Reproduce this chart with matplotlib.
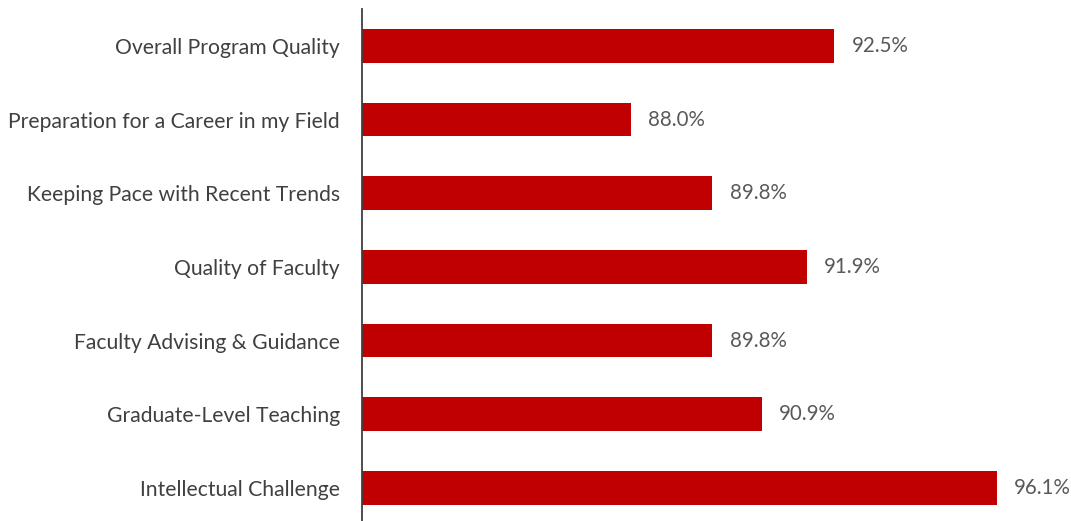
import matplotlib
matplotlib.use("Agg")
import matplotlib.pyplot as plt

categories = [
    "Overall Program Quality",
    "Preparation for a Career in my Field",
    "Keeping Pace with Recent Trends",
    "Quality of Faculty",
    "Faculty Advising & Guidance",
    "Graduate-Level Teaching",
    "Intellectual Challenge",
]
values = [92.5, 88.0, 89.8, 91.9, 89.8, 90.9, 96.1]

plt.rcParams['font.family'] = ['Lato', 'DejaVu Sans']

fig = plt.figure(figsize=(10.71, 5.21), dpi=100)
ax = fig.add_axes([362 / 1071, 0, (1071 - 362) / 1071, 512 / 521])

ypos = list(range(len(categories)))
ax.barh(ypos, values, height=0.46, color='#C00000', left=0)
ax.set_xlim(82.04, 97.75)
ax.set_ylim(6.45, -0.5)

for y, v in zip(ypos, values):
    ax.annotate(f"{v:.1f}%", xy=(v, y), xytext=(12.5, 0), textcoords='offset points',
                va='center', ha='left', fontsize=14.8, color='#595959')

ax.set_yticks(ypos)
ax.set_yticklabels(categories, fontsize=15.2, color='#404040')
ax.tick_params(axis='y', length=0, pad=16)
ax.set_xticks([])
for s in ['top', 'right', 'bottom']:
    ax.spines[s].set_visible(False)
ax.spines['left'].set_color('#404040')
ax.spines['left'].set_linewidth(1.3)

fig.savefig("out.png", dpi=100)
